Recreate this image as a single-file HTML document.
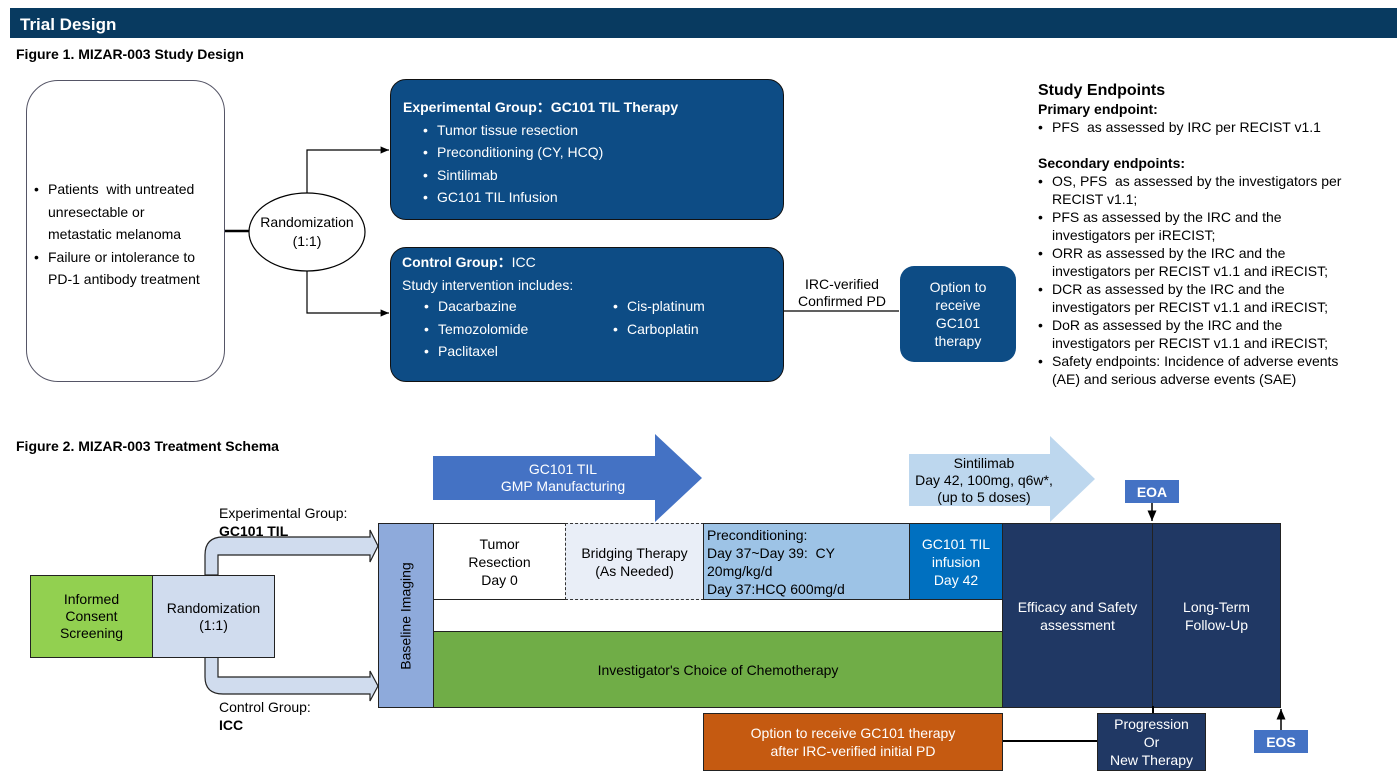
<!DOCTYPE html>
<html><head><meta charset="utf-8"><style>
*{margin:0;padding:0;box-sizing:border-box}
body{width:1397px;height:784px;position:relative;background:#fff;font-family:"Liberation Sans",sans-serif;color:#000;overflow:hidden}
.a{position:absolute}
.c{display:flex;align-items:center;justify-content:center;text-align:center}
.bx{border:1.5px solid #222}
ul{list-style:none}
li{position:relative;padding-left:14px}
li:before{content:"•";position:absolute;left:0}
</style></head><body>
<div class="a" style="left:10px;top:8px;width:1387px;height:30px;background:#083a60;color:#fff;font-weight:bold;font-size:17px;padding:7px 0 0 10px">Trial Design</div>
<div class="a" style="left:16px;top:46px;font-size:14px;font-weight:bold">Figure 1. MIZAR-003 Study Design</div>

<div class="a" style="left:26px;top:80px;width:199px;height:302px;border:1px solid #556;border-radius:32px"></div>
<div class="a" style="left:34px;top:178px;font-size:14px;line-height:22.5px;width:178px">
<ul><li>Patients &nbsp;with untreated unresectable or<br>metastatic melanoma</li><li>Failure or intolerance to PD-1 antibody treatment</li></ul></div>

<svg class="a" style="left:0;top:0" width="1397" height="784">
<defs><marker id="ar" markerWidth="8" markerHeight="8" refX="7" refY="4" orient="auto"><path d="M0,1 L7,4 L0,7z" fill="#000"/></marker></defs>
<line x1="225" y1="231" x2="249" y2="231" stroke="#000" stroke-width="2.5"/>
<polyline points="307,193 307,150 389,150" fill="none" stroke="#000" stroke-width="1.2" marker-end="url(#ar)"/>
<polyline points="307,270 307,313 389,313" fill="none" stroke="#000" stroke-width="1.2" marker-end="url(#ar)"/>
<ellipse cx="307" cy="232" rx="58" ry="39" fill="#fff" stroke="#000" stroke-width="1.2"/>
<line x1="783" y1="311" x2="899" y2="311" stroke="#000" stroke-width="1.2"/>
<polygon points="433,456 655,456 655,434 702,478 655,522 655,500 433,500" fill="#4472c4"/>
<polygon points="909,454 1050,454 1050,436 1095,479 1050,522 1050,506 909,506" fill="#bdd7ee"/>
<path d="M205,575 L205,555 Q205,537 223,537 L370,537 L370,530 L378,546 L370,562 L370,555 L218,555 L218,575Z" fill="#d0dcee" stroke="#222" stroke-width="1.2"/>
<path d="M205,657 L205,677 Q205,694 223,694 L370,694 L370,701 L378,686 L370,671 L370,677 L218,677 L218,657Z" fill="#d0dcee" stroke="#222" stroke-width="1.2"/>
<line x1="1002" y1="741" x2="1097" y2="741" stroke="#000" stroke-width="2"/>
<line x1="1152" y1="502" x2="1152" y2="521" stroke="#000" stroke-width="1.5" marker-end="url(#ar)"/>
<line x1="1281" y1="730" x2="1281" y2="709" stroke="#000" stroke-width="1.5" marker-end="url(#ar)"/>
</svg>
<div class="a c" style="left:249px;top:193px;width:116px;height:78px;font-size:14px;line-height:19px">Randomization<br>(1:1)</div>

<div class="a" style="left:390px;top:79px;width:394px;height:141px;background:#0d4c85;border:1.5px solid #111;border-radius:16px;color:#fff;font-size:14px;padding:16px 0 0 12px;line-height:22.5px">
<b>Experimental Group：GC101 TIL Therapy</b>
<ul style="margin-left:20px"><li>Tumor tissue resection</li><li>Preconditioning (CY, HCQ)</li><li>Sintilimab</li><li>GC101 TIL Infusion</li></ul></div>
<div class="a" style="left:390px;top:247px;width:394px;height:135px;background:#0d4c85;border:1.5px solid #111;border-radius:16px;color:#fff;font-size:14px;padding:3px 0 0 11px;line-height:22.5px">
<b>Control Group：</b>ICC<br>Study intervention includes:
<ul style="margin-left:22px;position:absolute;top:47px"><li>Dacarbazine</li><li>Temozolomide</li><li>Paclitaxel</li></ul>
<ul style="position:absolute;left:222px;top:47px"><li>Cis-platinum</li><li>Carboplatin</li></ul></div>
<div class="a" style="left:783px;top:276px;width:118px;text-align:center;font-size:14px;line-height:17px">IRC-verified<br>Confirmed PD</div>
<div class="a c" style="left:900px;top:266px;width:116px;height:96px;background:#0d4c85;border-radius:14px;color:#fff;font-size:14px;line-height:18px">Option to<br>receive<br>GC101<br>therapy</div>

<div class="a" style="left:1038px;top:82px;font-size:14px;line-height:18px;width:330px">
<div style="font-size:16px;font-weight:bold">Study Endpoints</div>
<b>Primary endpoint:</b>
<ul><li>PFS &nbsp;as assessed by IRC per RECIST v1.1</li></ul><br>
<b>Secondary endpoints:</b>
<ul><li>OS, PFS &nbsp;as assessed by the investigators per RECIST v1.1;</li><li>PFS as assessed by the IRC and the<br>investigators per iRECIST;</li><li>ORR as assessed by the IRC and the<br>investigators per RECIST v1.1 and iRECIST;</li><li>DCR as assessed by the IRC and the<br>investigators per RECIST v1.1 and iRECIST;</li><li>DoR as assessed by the IRC and the<br>investigators per RECIST v1.1 and iRECIST;</li><li>Safety endpoints: Incidence of adverse events<br>(AE) and serious adverse events (SAE)</li></ul></div>

<div class="a" style="left:16px;top:438px;font-size:14px;font-weight:bold">Figure 2. MIZAR-003 Treatment Schema</div>
<div class="a c" style="left:433px;top:456px;width:260px;height:44px;color:#fff;font-size:14px;line-height:17px">GC101 TIL<br>GMP Manufacturing</div>
<div class="a c" style="left:909px;top:454px;width:150px;height:52px;font-size:14px;line-height:17px">Sintilimab<br>Day 42, 100mg, q6w*,<br>(up to 5 doses)</div>

<div class="a" style="left:219px;top:504px;font-size:14px;line-height:18px">Experimental Group:<br><b>GC101 TIL</b></div>
<div class="a" style="left:219px;top:698px;font-size:14px;line-height:18px">Control Group:<br><b>ICC</b></div>
<div class="a c bx" style="left:30px;top:575px;width:123px;height:83px;background:#92d050;font-size:14px;line-height:17px">Informed<br>Consent<br>Screening</div>
<div class="a c bx" style="left:152px;top:575px;width:123px;height:83px;background:#d0dcee;font-size:14px;line-height:17px">Randomization<br>(1:1)</div>

<div class="a c bx" style="left:378px;top:523px;width:56px;height:185px;background:#8eaadb"><div style="transform:rotate(-90deg);white-space:nowrap;font-size:14px">Baseline Imaging</div></div>
<div class="a c bx" style="left:433px;top:523px;width:133px;height:77px;background:#fff;font-size:14px;line-height:18px">Tumor<br>Resection<br>Day 0</div>
<div class="a c" style="left:565px;top:523px;width:139px;height:77px;background:#e9eef7;border:1.5px dashed #333;font-size:14px;line-height:18px">Bridging Therapy<br>(As Needed)</div>
<div class="a bx" style="left:703px;top:523px;width:207px;height:77px;background:#9dc3e6;font-size:14px;line-height:18px;padding:2px 0 0 3px">Preconditioning:<br>Day 37~Day 39:&nbsp; CY<br>20mg/kg/d<br>Day 37:HCQ 600mg/d</div>
<div class="a c bx" style="left:909px;top:523px;width:94px;height:77px;background:#0070c0;color:#fff;font-size:14px;line-height:18px">GC101 TIL<br>infusion<br>Day 42</div>
<div class="a c bx" style="left:433px;top:631px;width:570px;height:77px;background:#70ad47;font-size:14px">Investigator's Choice of Chemotherapy</div>
<div class="a c bx" style="left:1002px;top:523px;width:151px;height:185px;background:#203864;color:#fff;font-size:14px;line-height:18px">Efficacy and Safety<br>assessment</div>
<div class="a c bx" style="left:1152px;top:523px;width:129px;height:185px;background:#203864;color:#fff;font-size:14px;line-height:18px">Long-Term<br>Follow-Up</div>
<div class="a" style="left:1152px;top:706px;width:1.5px;height:8px;background:#000"></div>
<div class="a c bx" style="left:703px;top:713px;width:300px;height:58px;background:#c55a11;color:#fff;font-size:14px;line-height:18px">Option to receive GC101 therapy<br>after IRC-verified initial PD</div>
<div class="a c bx" style="left:1097px;top:713px;width:109px;height:58px;background:#203864;color:#fff;font-size:14px;line-height:18px">Progression<br>Or<br>New Therapy</div>
<div class="a c" style="left:1125px;top:480px;width:54px;height:23px;background:#4472c4;color:#fff;font-weight:bold;font-size:14px">EOA</div>
<div class="a c" style="left:1254px;top:730px;width:54px;height:23px;background:#4472c4;color:#fff;font-weight:bold;font-size:14px">EOS</div>
</body></html>
